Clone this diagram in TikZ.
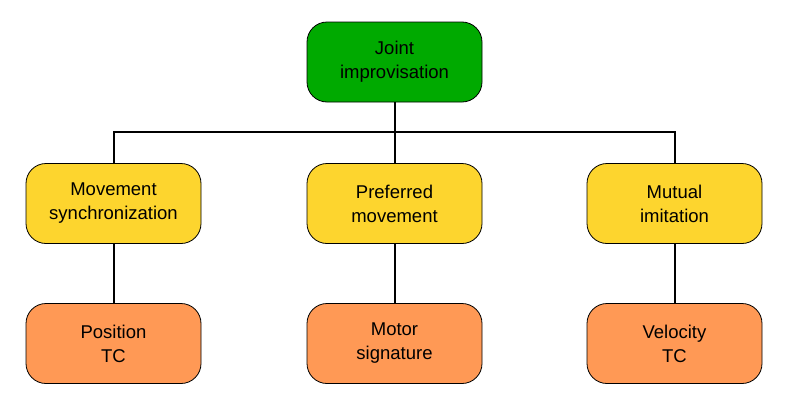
\documentclass[tikz,border=0pt]{standalone}
\usepackage{fontspec}
\setmainfont{Liberation Sans}
\definecolor{GoalFill}{HTML}{00AA00}
\definecolor{TaskFill}{HTML}{FDD52E}
\definecolor{MeasureFill}{HTML}{FF9955}
\tikzset{
    box/.style={
        draw=black, line width=0.8pt, rounded corners=20pt,
        minimum width=175pt, minimum height=80pt,
        align=center, font=\fontsize{18.5}{24}\selectfont
    },
    goal box/.style={box, fill=GoalFill},
    task box/.style={box, fill=TaskFill},
    measure box/.style={box, fill=MeasureFill},
    link/.style={draw=black, line width=2pt}
}

\begin{document}
\begin{tikzpicture}[x=1pt, y=-1pt]

\useasboundingbox (0,0) rectangle (789,407);

% Nodo superior.
\node[goal box] (joint) at (394.5,62) {Joint\\improvisation};

% Fila central.
\node[task box] (sync) at (113.5,203.5) {Movement\\synchronization};
\node[task box] (pref) at (394.5,203.5) {Preferred\\movement};
\node[task box] (imit) at (674.5,203.5) {Mutual\\imitation};

% Fila inferior.
\node[measure box] (pos) at (113.5,343.5) {Position\\TC};
\node[measure box] (motor) at (394.5,343.5) {Motor\\signature};
\node[measure box] (vel) at (674.5,343.5) {Velocity\\TC};

% Barra horizontal que reparte hacia la fila central.
\coordinate (bus) at (394.5,132);

\draw[link] (joint.south) -- (bus);
\draw[link] (sync.north) |- (bus) -| (imit.north);
\draw[link] (bus) -- (pref.north);

% Uniones entre la fila central y la inferior.
\draw[link] (sync.south) -- (pos.north);
\draw[link] (pref.south) -- (motor.north);
\draw[link] (imit.south) -- (vel.north);

\end{tikzpicture}
\end{document}
